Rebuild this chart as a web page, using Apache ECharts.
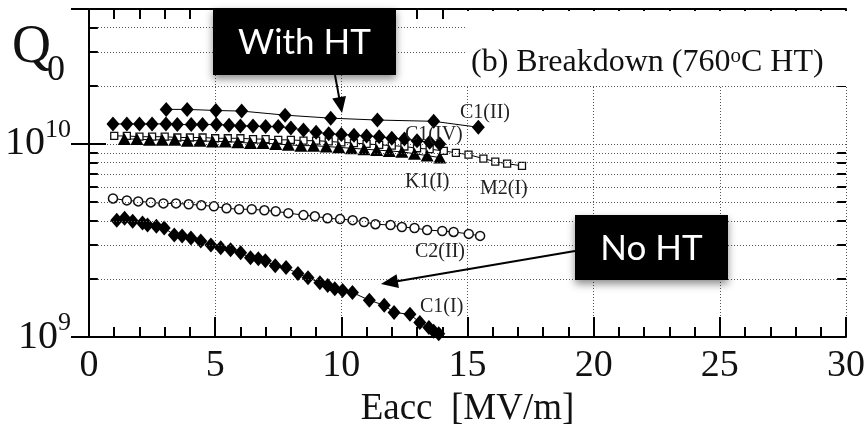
<!DOCTYPE html>
<html>
<head>
<meta charset="utf-8">
<script src="https://cdn.jsdelivr.net/npm/echarts@6/dist/echarts.min.js"></script>
<style>
  html, body { margin: 0; padding: 0; background: #fff; }
  #main { width: 868px; height: 433px; }
</style>
</head>
<body>
<div id="main"></div>
<script>
// data (Eacc in MV/m, Q0)
var c1IIx = [3.06, 3.89, 5.03, 6.05, 7.77, 9.58, 11.43, 13.66, 15.43];
var c1IIq = [1.51e10, 1.51e10, 1.49e10, 1.48e10, 1.41e10, 1.36e10, 1.33e10, 1.31e10, 1.22e10];

var c1IVx = [0.95, 1.5, 2.0, 2.5, 3.05, 3.5, 4.05, 4.5, 5.05, 5.55, 6.0, 6.5, 7.0, 7.5, 8.0, 8.5, 9.0, 9.5, 10.0, 10.5, 11.0, 11.5, 12.0, 12.5, 13.0, 13.5, 13.9];
var c1IVq = [1.27e10, 1.27e10, 1.27e10, 1.27e10, 1.27e10, 1.26e10, 1.26e10, 1.26e10, 1.26e10, 1.25e10, 1.24e10, 1.24e10, 1.23e10, 1.23e10, 1.21e10, 1.18e10, 1.15e10, 1.13e10, 1.12e10, 1.11e10, 1.10e10, 1.09e10, 1.07e10, 1.06e10, 1.04e10, 1.02e10, 1.00e10];

var k1Ix = [1.4, 1.9, 2.4, 2.9, 3.4, 3.9, 4.4, 4.9, 5.4, 5.9, 6.4, 6.9, 7.4, 7.9, 8.4, 8.9, 9.4, 9.9, 10.4, 10.9, 11.4, 11.9, 12.4, 12.9, 13.4, 13.9];
var k1Iq = [1.06e10, 1.06e10, 1.05e10, 1.05e10, 1.05e10, 1.04e10, 1.04e10, 1.03e10, 1.03e10, 1.02e10, 1.01e10, 1.01e10, 1.00e10, 0.99e10, 0.98e10, 0.98e10, 0.97e10, 0.96e10, 0.95e10, 0.94e10, 0.93e10, 0.92e10, 0.91e10, 0.89e10, 0.87e10, 0.85e10];

var m2Ix = [1.0, 1.5, 2.0, 2.5, 3.0, 3.5, 4.0, 4.5, 5.0, 5.5, 6.0, 6.5, 7.0, 7.5, 8.0, 8.5, 9.0, 9.5, 10.0, 10.5, 11.0, 11.5, 12.0, 12.5, 13.0, 13.5, 14.06, 14.54, 15.04, 15.63, 16.1, 16.57, 17.16];
var m2Iq = [1.10e10, 1.10e10, 1.09e10, 1.09e10, 1.09e10, 1.08e10, 1.08e10, 1.08e10, 1.07e10, 1.07e10, 1.07e10, 1.06e10, 1.06e10, 1.05e10, 1.05e10, 1.04e10, 1.04e10, 1.03e10, 1.02e10, 1.01e10, 1.00e10, 0.99e10, 0.98e10, 0.97e10, 0.95e10, 0.94e10, 0.92e10, 0.90e10, 0.88e10, 0.84e10, 0.81e10, 0.79e10, 0.77e10];

var c2IIx = [0.95, 1.5, 1.95, 2.45, 2.95, 3.45, 3.95, 4.45, 4.95, 5.45, 5.95, 6.45, 6.95, 7.4, 7.9, 8.5, 8.95, 9.45, 9.95, 10.45, 10.9, 11.35, 11.95, 12.4, 12.9, 13.4, 14.0, 14.45, 15.05, 15.5];
var c2IIq = [5.22e9, 5.10e9, 5.04e9, 4.98e9, 4.92e9, 4.92e9, 4.87e9, 4.81e9, 4.75e9, 4.64e9, 4.59e9, 4.59e9, 4.53e9, 4.48e9, 4.38e9, 4.28e9, 4.22e9, 4.12e9, 4.08e9, 4.03e9, 3.94e9, 3.84e9, 3.80e9, 3.71e9, 3.67e9, 3.58e9, 3.54e9, 3.50e9, 3.42e9, 3.34e9];

var c1Ix = [1.10, 1.41, 1.73, 2.12, 2.32, 2.67, 2.98, 3.38, 3.69, 4.04, 4.43, 4.83, 5.22, 5.61, 6.01, 6.40, 6.71, 6.99, 7.38, 7.81, 8.28, 8.68, 9.15, 9.46, 9.74, 10.05, 10.44, 11.11, 11.70, 12.09, 12.72, 13.11, 13.47, 13.66, 13.86];
var c1Iq = [4.03e9, 4.12e9, 3.98e9, 3.89e9, 3.80e9, 3.75e9, 3.67e9, 3.38e9, 3.34e9, 3.26e9, 3.14e9, 3.00e9, 2.90e9, 2.83e9, 2.73e9, 2.57e9, 2.54e9, 2.48e9, 2.34e9, 2.29e9, 2.13e9, 2.03e9, 1.91e9, 1.85e9, 1.78e9, 1.74e9, 1.70e9, 1.55e9, 1.46e9, 1.34e9, 1.31e9, 1.19e9, 1.12e9, 1.07e9, 1.04e9];

// minor log grid positions
var minorQ = [2e9, 3e9, 4e9, 5e9, 6e9, 7e9, 8e9, 9e9, 2e10, 3e10, 4e10];

var serif = 'Liberation Serif';
var ink = '#111';

function pairs(xs, ys) {
    return xs.map(function (x, i) { return [x, ys[i]]; });
}

function arrow(x1, y1, x2, y2, len, w) {
    var a = Math.atan2(y2 - y1, x2 - x1);
    var c = Math.cos(a), s = Math.sin(a);
    var bx = x2 - len * c, by = y2 - len * s;
    return [
        { type: 'line', z: 20, shape: { x1: x1, y1: y1, x2: bx + 2 * c, y2: by + 2 * s }, style: { stroke: '#000', lineWidth: 2 } },
        { type: 'polygon', z: 20, shape: { points: [[x2, y2], [bx + w / 2 * s, by - w / 2 * c], [bx - w / 2 * s, by + w / 2 * c]] }, style: { fill: '#000' } }
    ];
}

function label(txt, x, y) {
    return { type: 'text', z: 15, x: x, y: y, style: { text: txt, font: '20px "' + serif + '"', fill: '#222', verticalAlign: 'middle' } };
}

function box(txt, x, y, w, h) {
    return [
        { type: 'rect', z: 18, shape: { x: x, y: y, width: w, height: h }, style: { fill: '#000', shadowBlur: 8, shadowColor: 'rgba(0,0,0,0.45)', shadowOffsetY: 4 } },
        { type: 'text', z: 19, x: x + w / 2, y: y + h / 2 + 1, style: { text: txt, font: '35px Lato', fill: '#fff', align: 'center', verticalAlign: 'middle' } }
    ];
}

var myChart = echarts.init(document.getElementById('main'));

var gridLines = minorQ.map(function (v) { return { yAxis: v }; });
var tickLines = [];
minorQ.forEach(function (v) {
    tickLines.push([{ coord: [0, v] }, { coord: [0.35, v] }]);
    tickLines.push([{ coord: [29.65, v] }, { coord: [30, v] }]);
});

var lineStyle = { color: '#000', width: 1 };

var option = {
    animation: false,
    backgroundColor: '#fff',
    grid: { left: 89, right: 15, top: 9, bottom: 93 },
    xAxis: [{
        type: 'value', min: 0, max: 30, interval: 5, position: 'bottom',
        name: 'Eacc  [MV/m]', nameLocation: 'middle', nameGap: 54,
        nameTextStyle: { fontFamily: serif, fontSize: 37, color: ink },
        axisLine: { lineStyle: { color: '#000', width: 2 } },
        axisTick: { inside: true, length: 20, lineStyle: { color: '#000', width: 2 } },
        minorTick: { show: true, splitNumber: 5, length: 10, lineStyle: { color: '#000', width: 2 } },
        axisLabel: { fontFamily: serif, fontSize: 38, color: ink, margin: 10 },
        splitLine: { show: true, lineStyle: { color: '#555', type: [1, 2], width: 1 } }
    }, {
        type: 'value', min: 0, max: 30, interval: 1, position: 'top',
        axisLine: { lineStyle: { color: '#000', width: 2 } },
        axisTick: { inside: true, length: 10, lineStyle: { color: '#000', width: 2 } },
        axisLabel: { show: false },
        splitLine: { show: false }
    }],
    yAxis: [{
        type: 'log', logBase: 10, min: 1e9, max: 5e10, position: 'left',
        axisLine: { lineStyle: { color: '#000', width: 2 } },
        axisTick: { inside: true, length: 17, lineStyle: { color: '#000', width: 2 } },
        axisLabel: {
            margin: 18,
            formatter: function (v) {
                var e = Math.round(Math.log10(v) * 1000) / 1000;
                if (e === 9) return '{b|10}{s|9}';
                if (e === 10) return '{b|10}{s|10}';
                return '';
            },
            rich: {
                b: { fontFamily: serif, fontSize: 40, lineHeight: 40, color: ink },
                s: { fontFamily: serif, fontSize: 26, lineHeight: 26, padding: [0, 0, 28, 0], color: ink }
            }
        },
        splitLine: { show: true, lineStyle: { color: '#555', type: [1, 2], width: 1 } }
    }, {
        type: 'log', logBase: 10, min: 1e9, max: 5e10, position: 'right',
        axisLine: { lineStyle: { color: '#000', width: 2 } },
        axisTick: { inside: true, length: 18, lineStyle: { color: '#000', width: 2 } },
        axisLabel: { show: false },
        splitLine: { show: false }
    }],
    series: [{
        name: 'M2(I)', type: 'line', data: pairs(m2Ix, m2Iq),
        symbol: 'rect', symbolSize: 7, lineStyle: lineStyle,
        itemStyle: { color: '#fff', borderColor: '#111', borderWidth: 1.3 },
        markLine: {
            silent: true, symbol: 'none', label: { show: false }, animation: false,
            lineStyle: { color: '#555', type: [1, 2], width: 1 },
            data: gridLines
        }
    }, {
        name: 'K1(I)', type: 'line', data: pairs(k1Ix, k1Iq),
        symbol: 'triangle', symbolSize: [13, 12], lineStyle: lineStyle,
        itemStyle: { color: '#000' },
        markLine: {
            silent: true, symbol: 'none', label: { show: false }, animation: false,
            lineStyle: { color: '#000', type: 'solid', width: 2 },
            data: tickLines
        }
    }, {
        name: 'C1(IV)', type: 'line', data: pairs(c1IVx, c1IVq),
        symbol: 'diamond', symbolSize: [13, 15], lineStyle: lineStyle,
        itemStyle: { color: '#000' }
    }, {
        name: 'C1(II)', type: 'line', data: pairs(c1IIx, c1IIq),
        symbol: 'diamond', symbolSize: [13, 15], lineStyle: lineStyle,
        itemStyle: { color: '#000' }
    }, {
        name: 'C2(II)', type: 'line', data: pairs(c2IIx, c2IIq),
        symbol: 'circle', symbolSize: 9, lineStyle: lineStyle,
        itemStyle: { color: '#fff', borderColor: '#111', borderWidth: 1.5 }
    }, {
        name: 'C1(I)', type: 'line', data: pairs(c1Ix, c1Iq),
        symbol: 'diamond', symbolSize: [13, 15], lineStyle: lineStyle,
        itemStyle: { color: '#000' }
    }],
    graphic: [].concat(
        [
            { type: 'rect', z: 10, shape: { x: 466, y: 11, width: 385, height: 75 }, style: { fill: '#fff' } },
            {
                type: 'text', z: 11, x: 471, y: 63,
                style: {
                    text: '{t|(b) Breakdown (760}{o|o}{t|C HT)}',
                    verticalAlign: 'middle',
                    rich: {
                        t: { fontFamily: serif, fontSize: 32, lineHeight: 34, fill: ink },
                        o: { fontFamily: serif, fontSize: 21, lineHeight: 16, verticalAlign: 'top', fill: ink }
                    }
                }
            },
            { type: 'text', z: 11, x: 12, y: 48, style: { text: 'Q', font: '54px "' + serif + '"', fill: ink, verticalAlign: 'middle' } },
            { type: 'text', z: 11, x: 47, y: 71, style: { text: '0', font: '36px "' + serif + '"', fill: ink, verticalAlign: 'middle' } },
            label('C1(II)', 460, 113),
            label('C1(IV)', 405, 135),
            label('K1(I)', 405, 182),
            label('M2(I)', 480, 189),
            label('C2(II)', 415, 252),
            label('C1(I)', 420, 307)
        ],
        box('With HT', 213, 8, 183, 67),
        box('No HT', 575, 215, 153, 65),
        arrow(335, 75, 342, 113, 16, 14),
        arrow(575, 251, 381, 284, 17, 14)
    )
};

myChart.setOption(option);
</script>
</body>
</html>
